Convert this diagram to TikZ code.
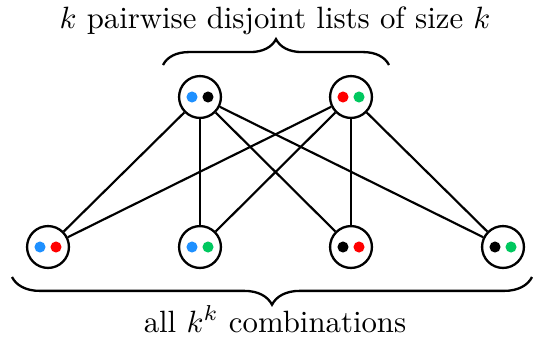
\documentclass[tikz,border=0pt]{standalone}
\usetikzlibrary{decorations.pathreplacing}
\definecolor{cblue}{RGB}{30,144,255}
\definecolor{cred}{RGB}{255,0,0}
\definecolor{cgreen}{RGB}{0,200,95}
\tikzset{
  vtx/.style={circle,draw,line width=0.75pt,minimum size=13.6pt,inner sep=0pt,fill=white},
  edge/.style={line width=0.7pt},
  dot/.style={circle,fill=#1,inner sep=0pt,minimum size=3.6pt},
  brc/.style={decorate,line width=0.75pt,decoration={brace,amplitude=#1}},
}
\newcommand{\twodots}[3]{%
  \node[dot=#2] at ([xshift=-2.6pt]#1.center) {};
  \node[dot=#3] at ([xshift=2.6pt]#1.center) {};}
\begin{document}
\begin{tikzpicture}[x=0.3247pt,y=-0.3247pt]
\useasboundingbox (0,0) rectangle (533,340);
\node[vtx] (t1) at (200,97) {};
\node[vtx] (t2) at (351,97) {};
\node[vtx] (b1) at (48,247) {};
\node[vtx] (b2) at (200,247) {};
\node[vtx] (b3) at (351,247) {};
\node[vtx] (b4) at (503,247) {};
\foreach \t in {t1,t2}
  \foreach \b in {b1,b2,b3,b4}
    \draw[edge] (\t) -- (\b);
\twodots{t1}{cblue}{black}
\twodots{t2}{cred}{cgreen}
\twodots{b1}{cblue}{cred}
\twodots{b2}{cblue}{cgreen}
\twodots{b3}{black}{cred}
\twodots{b4}{black}{cgreen}
\coordinate (tbl) at (163,65);
\coordinate (tbr) at (389,65);
\draw[brc=8.4pt] (tbl) -- (tbr);
\coordinate (bbl) at (12,277);
\coordinate (bbr) at (532,277);
\draw[brc=9pt] (bbr) -- (bbl);
\node[anchor=base,inner sep=0pt] (ttext) at (275,28) {$k$ pairwise disjoint lists of size $k$};
\node[anchor=base,inner sep=0pt] (btext) at (275,332) {all $k^k$ combinations};
\end{tikzpicture}
\end{document}
